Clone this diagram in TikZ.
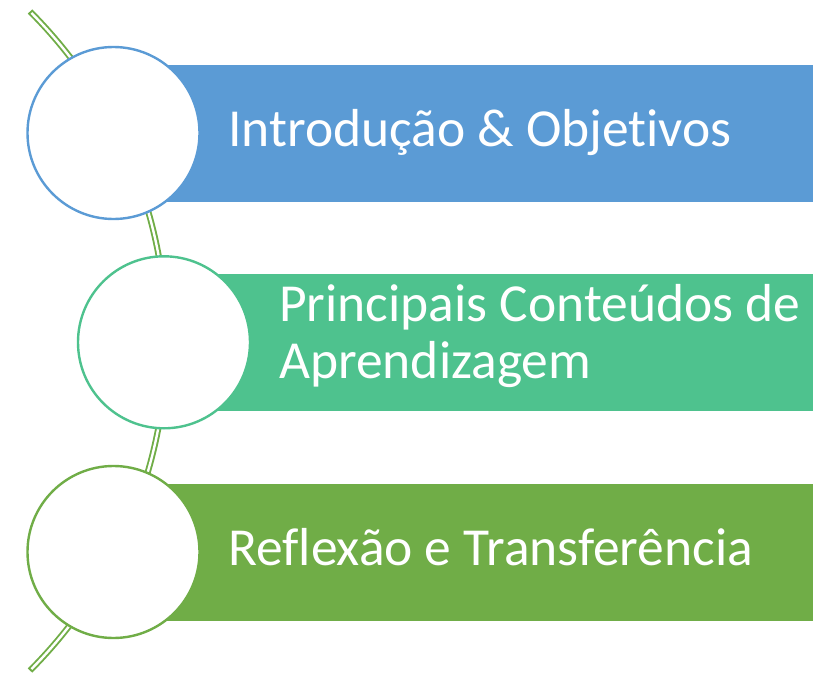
\documentclass[tikz,border=0pt]{standalone}
\usepackage{fontspec}
\setmainfont{Carlito}[Ligatures=NoCommon]

\definecolor{barblue}{HTML}{5B9BD5}
\definecolor{barteal}{HTML}{4EC28E}
\definecolor{bargreen}{HTML}{70AD47}

\tikzset{
	bar/.style={rectangle, inner sep=0, minimum height=137pt, anchor=east},
	ring/.style={circle, draw, fill=white, line width=2.4pt, inner sep=0, minimum size=172pt},
	caption/.style={anchor=base west, inner sep=0, text=white, align=left,
		font=\fontsize{53.5}{56.5}\selectfont}
}

\begin{document}
\begin{tikzpicture}[x=1pt, y=1pt]
	\useasboundingbox (0,0) rectangle (823,-675);

	% the spine behind the circles
	\coordinate (hub) at (-299.5,-341);
	\draw[bargreen, line width=6.2pt] (hub) ++(45:466pt) arc[start angle=45, end angle=-45, radius=466pt];
	\draw[white, line width=2.4pt] (hub) ++(44.75:466pt) arc[start angle=44.75, end angle=-44.75, radius=466pt];

	\foreach \n/\x/\y/\col/\tx/\ty/\txt in {
		1/113.5/-133/barblue/228/-146/{Introdução \& Objetivos},
		2/164/-342.3/barteal/279/-378/{Principais Conteúdos de\\Aprendizagem},
		3/113.5/-552/bargreen/228/-565.5/{Reflexão e Transferência}
	}{
		\node[bar, fill=\col, minimum width={(813-\x)*1pt}] (bar\n) at (813,\y) {};
		\node[ring, draw=\col] (ring\n) at (\x,\y) {};
		\node[caption] (text\n) at (\tx,\ty) {\txt};
	}
\end{tikzpicture}
\end{document}
